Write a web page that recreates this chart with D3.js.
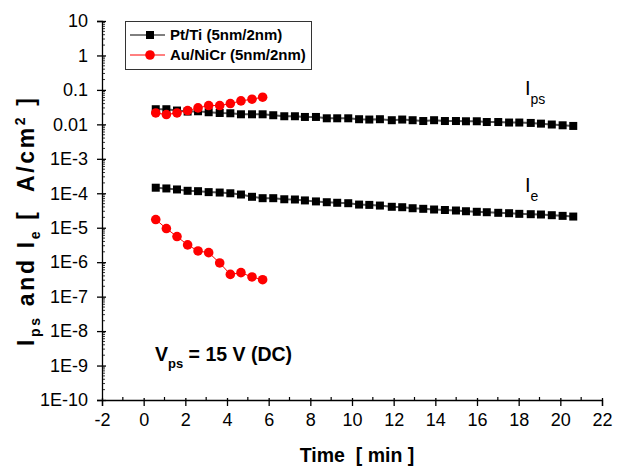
<!DOCTYPE html>
<html>
<head>
<meta charset="utf-8">
<script src="https://cdn.jsdelivr.net/npm/d3@7"></script>
<style>
  body { margin: 0; background: #fff; }
  text { font-family: "Liberation Sans", Arial, sans-serif; fill: #000; white-space: pre; }
  .tick-label { font-size: 18px; }
  .title { font-size: 19.5px; font-weight: bold; }
  .legend-text { font-size: 15px; font-weight: bold; }
</style>
</head>
<body>
<svg id="graph1"></svg>
<script>
// time axis (min)
var times = [0.58, 1.09, 1.60, 2.11, 2.61, 3.12, 3.65, 4.16, 4.67, 5.20,
             5.71, 6.22, 6.75, 7.26, 7.74, 8.27, 8.79, 9.29, 9.82, 10.34,
             10.83, 11.34, 11.91, 12.41, 12.91, 13.42, 13.94, 14.46, 14.99, 15.47,
             15.99, 16.47, 17.02, 17.54, 18.03, 18.58, 19.07, 19.59, 20.11, 20.62];

// Pt/Ti (5nm/2nm)
var ptIps = [0.0275, 0.0275, 0.0252, 0.0235, 0.0240, 0.0225, 0.0214, 0.0210, 0.0196, 0.0196,
             0.0196, 0.0184, 0.0172, 0.0172, 0.0164, 0.0164, 0.0150, 0.0150, 0.0150, 0.0141,
             0.0138, 0.0141, 0.0132, 0.0138, 0.0132, 0.0125, 0.0132, 0.0125, 0.0125, 0.0123,
             0.0123, 0.0117, 0.0117, 0.0113, 0.0113, 0.0110, 0.0105, 0.0099, 0.0094, 0.0090];
var ptIe = [1.45e-4, 1.38e-4, 1.29e-4, 1.18e-4, 1.15e-4, 1.08e-4, 1.05e-4, 1.00e-4, 9.2e-5, 7.9e-5,
            7.2e-5, 7.2e-5, 6.7e-5, 6.6e-5, 6.2e-5, 5.8e-5, 5.5e-5, 5.3e-5, 5.15e-5, 4.7e-5,
            4.6e-5, 4.4e-5, 4.05e-5, 3.94e-5, 3.68e-5, 3.54e-5, 3.38e-5, 3.27e-5, 3.16e-5, 3.01e-5,
            2.9e-5, 2.82e-5, 2.71e-5, 2.64e-5, 2.53e-5, 2.47e-5, 2.42e-5, 2.31e-5, 2.21e-5, 2.11e-5];

// Au/NiCr (5nm/2nm), first 11 time points
var auIps = [0.0214, 0.0193, 0.0214, 0.0252, 0.0300, 0.0352, 0.0352, 0.0402, 0.0479, 0.0537, 0.0614];
var auIe = [1.73e-5, 9.45e-6, 5.54e-6, 3.17e-6, 2.12e-6, 1.89e-6, 9.5e-7, 4.42e-7, 4.96e-7, 3.72e-7, 3.1e-7];

var xTicks = [-2, 0, 2, 4, 6, 8, 10, 12, 14, 16, 18, 20, 22];
var yTickValues = [10, 1, 0.1, 0.01, 1e-3, 1e-4, 1e-5, 1e-6, 1e-7, 1e-8, 1e-9, 1e-10];
var yTickLabels = ["10", "1", "0.1", "0.01", "1E-3", "1E-4", "1E-5", "1E-6", "1E-7", "1E-8", "1E-9", "1E-10"];

var legendNames = ["Pt/Ti (5nm/2nm)", "Au/NiCr (5nm/2nm)"];

var drawChart = function(target)
{
    var screen = {width:626, height:466};
    var plot = {left:102, right:602, top:21, bottom:400};

    var svg = d3.select(target)
        .attr("width", screen.width)
        .attr("height", screen.height);

    var xScale = d3.scaleLinear()
        .domain([-2, 22])
        .range([plot.left, plot.right]);

    var yScale = d3.scaleLog()
        .domain([1e-10, 10])
        .range([plot.bottom, plot.top]);

    // ---- axes
    var xAxis = d3.axisBottom(xScale)
        .tickValues(xTicks)
        .tickSize(6)
        .tickPadding(7)
        .tickFormat(function(d) { return String(d); });

    var xg = svg.append("g")
        .attr("transform", "translate(0," + plot.bottom + ")")
        .call(xAxis);
    xg.select(".domain").attr("stroke", "#000").attr("stroke-width", 1.3);
    xg.selectAll(".tick line").attr("stroke", "#000").attr("stroke-width", 1.3).attr("y1", -2);
    xg.selectAll(".tick text").classed("tick-label", true).attr("font-size", null).attr("font-family", null);

    // x minor ticks (inside)
    var xMinor = d3.range(-1, 22, 2);
    svg.append("g").selectAll("line")
        .data(xMinor)
        .enter()
        .append("line")
        .attr("x1", function(d) { return xScale(d); })
        .attr("x2", function(d) { return xScale(d); })
        .attr("y1", plot.bottom)
        .attr("y2", plot.bottom - 3)
        .attr("stroke", "#000")
        .attr("stroke-width", 1.2);

    var yAxis = d3.axisLeft(yScale)
        .tickValues(yTickValues)
        .tickSize(5)
        .tickPadding(9)
        .tickFormat(function(d, i) { return yTickLabels[i]; });

    var yg = svg.append("g")
        .attr("transform", "translate(" + plot.left + ",0)")
        .call(yAxis);
    yg.select(".domain").attr("stroke", "#000").attr("stroke-width", 1.3);
    yg.selectAll(".tick line").attr("stroke", "#000").attr("stroke-width", 1.3).attr("x1", 4);
    yg.selectAll(".tick text").classed("tick-label", true).attr("font-size", null).attr("font-family", null);

    // log minor ticks (inside)
    var yMinor = [];
    yTickValues.slice(1).forEach(function(dec)
    {
        for (var k = 2; k <= 9; k++) yMinor.push(dec * k);
    });
    svg.append("g").selectAll("line")
        .data(yMinor)
        .enter()
        .append("line")
        .attr("x1", plot.left)
        .attr("x2", plot.left + 3)
        .attr("y1", function(d) { return yScale(d); })
        .attr("y2", function(d) { return yScale(d); })
        .attr("stroke", "#000")
        .attr("stroke-width", 0.8);

    // ---- series
    var line = d3.line()
        .x(function(d) { return xScale(d[0]); })
        .y(function(d) { return yScale(d[1]); });

    var zip = function(vals) { return vals.map(function(v, i) { return [times[i], v]; }); };

    var drawSquares = function(vals)
    {
        var pts = zip(vals);
        svg.append("path")
            .datum(pts)
            .attr("fill", "none")
            .attr("stroke", "#555")
            .attr("stroke-width", 2)
            .attr("d", line);
        svg.append("g").selectAll("rect")
            .data(pts)
            .enter()
            .append("rect")
            .attr("x", function(d) { return xScale(d[0]) - 4; })
            .attr("y", function(d) { return yScale(d[1]) - 4; })
            .attr("width", 8)
            .attr("height", 8)
            .attr("fill", "#000");
    }

    var drawCircles = function(vals)
    {
        var pts = zip(vals);
        svg.append("path")
            .datum(pts)
            .attr("fill", "none")
            .attr("stroke", "#f00")
            .attr("stroke-width", 1)
            .attr("d", line);
        svg.append("g").selectAll("circle")
            .data(pts)
            .enter()
            .append("circle")
            .attr("cx", function(d) { return xScale(d[0]); })
            .attr("cy", function(d) { return yScale(d[1]); })
            .attr("r", 4.8)
            .attr("fill", "#f00");
    }

    drawSquares(ptIps);
    drawSquares(ptIe);
    drawCircles(auIps);
    drawCircles(auIe);

    // ---- labels
    svg.append("text")
        .classed("title", true)
        .attr("text-anchor", "middle")
        .attr("x", 357)
        .attr("y", 462)
        .text("Time  [ min ]");

    var yt = svg.append("text")
        .classed("title", true)
        .style("font-size", "23px")
        .attr("text-anchor", "middle")
        .attr("textLength", 248)
        .attr("lengthAdjust", "spacing")
        .attr("transform", "translate(34,222) rotate(-90)");
    yt.append("tspan").text("I");
    yt.append("tspan").attr("dy", 6).attr("font-size", 14).text("ps");
    yt.append("tspan").attr("dy", -6).text(" and I");
    yt.append("tspan").attr("dy", 6).attr("font-size", 14).text("e");
    yt.append("tspan").attr("dy", -6).text(" [  A/cm");
    yt.append("tspan").attr("dy", -9).attr("font-size", 14).text("2");
    yt.append("tspan").attr("dy", 9).text(" ]");

    var vt = svg.append("text")
        .classed("title", true)
        .attr("x", 155)
        .attr("y", 361);
    vt.append("tspan").text("V");
    vt.append("tspan").attr("dy", 7).attr("font-size", 13).text("ps");
    vt.append("tspan").attr("dy", -7).text(" = 15 V (DC)");

    var ipsLabel = svg.append("text")
        .attr("x", 525)
        .attr("y", 95)
        .attr("font-size", 20);
    ipsLabel.append("tspan").text("I");
    ipsLabel.append("tspan").attr("dy", 9).attr("font-size", 14).text("ps");

    var ieLabel = svg.append("text")
        .attr("x", 525)
        .attr("y", 192)
        .attr("font-size", 20);
    ieLabel.append("tspan").text("I");
    ieLabel.append("tspan").attr("dy", 9).attr("font-size", 14).text("e");

    // ---- legend
    var legend = svg.append("g").classed("legend", true);
    legend.append("rect")
        .attr("x", 125.5)
        .attr("y", 21.5)
        .attr("width", 186)
        .attr("height", 48)
        .attr("fill", "#fff")
        .attr("stroke", "#333")
        .attr("stroke-width", 1);

    var rows = legend.selectAll("g.row")
        .data(legendNames)
        .enter()
        .append("g")
        .classed("row", true)
        .attr("transform", function(d, i) { return "translate(0," + (35 + i * 20) + ")"; });

    rows.append("line")
        .attr("x1", 130)
        .attr("x2", 165)
        .attr("stroke", function(d, i) { return i == 0 ? "#000" : "#f00"; })
        .attr("stroke-width", 1);
    rows.filter(function(d, i) { return i == 0; })
        .append("rect")
        .attr("x", 146).attr("y", -4).attr("width", 8).attr("height", 8).attr("fill", "#000");
    rows.filter(function(d, i) { return i == 1; })
        .append("circle")
        .attr("cx", 150).attr("r", 4.8).attr("fill", "#f00");
    rows.append("text")
        .classed("legend-text", true)
        .attr("x", 170)
        .attr("dy", "0.36em")
        .text(function(d) { return d; });
}

drawChart("#graph1");
</script>
</body>
</html>
